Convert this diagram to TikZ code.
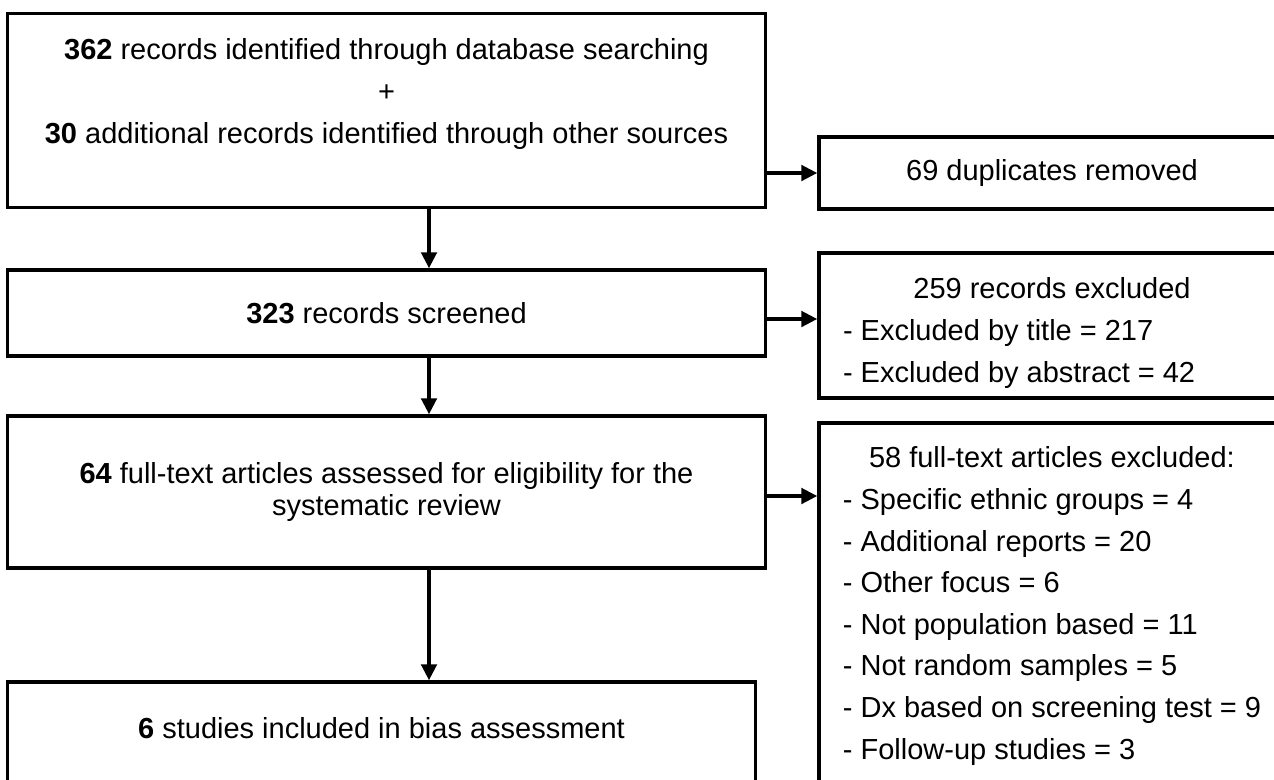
\documentclass[tikz,border=0pt]{standalone}
\usepackage{fontspec}
\setmainfont{Liberation Sans}
\usetikzlibrary{arrows.meta,positioning}

\begin{document}
\begin{tikzpicture}[x=0.02cm,y=-0.02cm,>={Triangle[length=0.32cm,width=0.31cm]},
  font=\fontsize{16.5}{23.7}\selectfont,
  flowbox/.style={draw,line width=2pt,inner sep=0pt,align=center},
  sidebox/.style={draw,line width=2pt,inner sep=0pt,align=left,minimum width=9.32cm},
  arr/.style={->,line width=2pt}]
\useasboundingbox (0,0) rectangle (1274,779);
\clip (0,0) rectangle (1274,779);
\coordinate (spine) at (429,0);
% left column
\node[flowbox,minimum width=15.16cm,minimum height=3.88cm] (ident) at (386.5,110.5) {};
\node[align=center] (identtext) at (386.5,94) {\textbf{362} records identified through database searching\\+\\\textbf{30} additional records identified through other sources};
\node[flowbox,minimum width=15.16cm,minimum height=1.72cm] (screen) at (386.5,313) {\textbf{323} records screened};
\node[flowbox,minimum width=15.16cm,minimum height=3.04cm,font=\fontsize{16.5}{18.2}\selectfont] (assess) at (386.5,492) {\textbf{64} full-text articles assessed for eligibility for the\\systematic review};
\node[flowbox,minimum width=14.96cm,minimum height=2.76cm] (bias) at (381.5,751) {};
\node (biastext) at (381.5,728) {\textbf{6} studies included in bias assessment};
% right column
\node[sidebox,minimum height=1.44cm,align=center] (dup) at (1052,173) {69 duplicates removed};
\node[sidebox,minimum height=2.9cm] (excl) at (1052,325.5) {};
\node[align=left,inner sep=0pt] (excltext) at (1052,333) {\makebox[8.36cm]{259 records excluded}\\- Excluded by title = 217\\- Excluded by abstract = 42};
\node[sidebox,minimum height=7.32cm] (ftex) at (1052,606) {\makebox[8.36cm]{58 full-text articles excluded:}\\- Specific ethnic groups = 4\\- Additional reports = 20\\- Other focus = 6\\- Not population based = 11\\- Not random samples = 5\\- Dx based on screening test = 9\\- Follow-up studies = 3};
% arrows
\draw[arr] (ident.south -| spine) -- (screen.north -| spine);
\draw[arr] (screen.south -| spine) -- (assess.north -| spine);
\draw[arr] (assess.south -| spine) -- (bias.north -| spine);
\draw[arr] (ident.east |- dup.west) -- (dup.west);
\draw[arr] ([yshift=-0.12cm]screen.east) -- ([yshift=-0.12cm]screen.east -| excl.west);
\draw[arr] ([yshift=-0.08cm]assess.east) -- ([yshift=-0.08cm]assess.east -| ftex.west);
\end{tikzpicture}
\end{document}
